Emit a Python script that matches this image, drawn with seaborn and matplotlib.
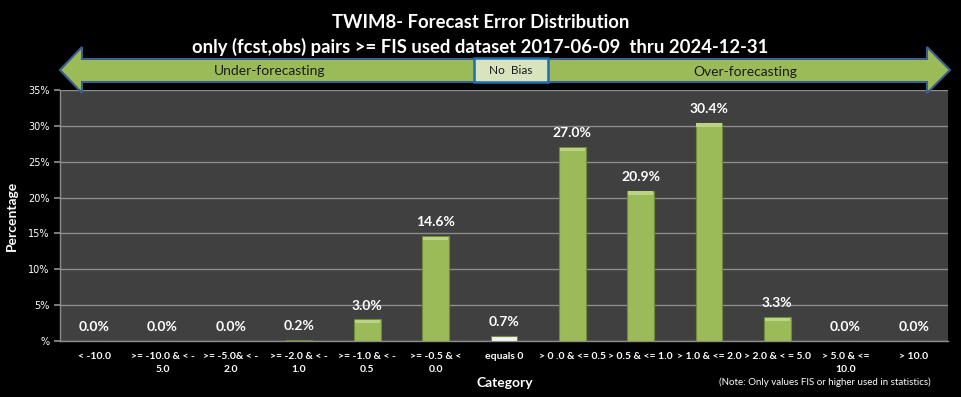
import matplotlib
matplotlib.use("Agg")
import matplotlib.pyplot as plt
from matplotlib.patches import Polygon, Rectangle
from matplotlib.ticker import FixedLocator, FuncFormatter
import seaborn as sns
import pandas as pd
import numpy as np

categories = ["< -10.0", ">= -10.0 & < -\n5.0", ">= -5.0& < -\n2.0", ">= -2.0 & < -\n1.0",
              ">= -1.0 & < -\n0.5", ">= -0.5 & <\n0.0", "equals 0", "> 0 .0 & <= 0.5",
              "> 0.5 & <= 1.0", "> 1.0 & <= 2.0", "> 2.0 & < = 5.0", "> 5.0 & <=\n10.0", "> 10.0"]
values = [0.0, 0.0, 0.0, 0.2, 3.0, 14.6, 0.7, 27.0, 20.9, 30.4, 3.3, 0.0, 0.0]
bar_colors = ["#9BBB59"] * 6 + ["#F2F2F2"] + ["#9BBB59"] * 6
y_ticks = [0, 5, 10, 15, 20, 25, 30, 35]

sns.set_theme(style="dark")
plt.rcParams['font.family'] = ['Lato', 'DejaVu Sans']

W, H = 961, 397
fig = plt.figure(figsize=(W / 100, H / 100), dpi=100, facecolor="black")
ax = fig.add_axes([60 / W, 1 - 341 / H, (948 - 60) / W, (341 - 90) / H])
ax.set_facecolor("#404040")

df = pd.DataFrame({"cat": categories, "val": values})
sns.barplot(data=df, x="cat", y="val", hue="cat", palette=bar_colors, legend=False,
            saturation=1, width=0.39, ax=ax, edgecolor="#6F8A38", linewidth=0.8, zorder=3)

# subtle lighter bevel at top of each green bar
for p in ax.patches:
    h = p.get_height()
    fc = p.get_facecolor()
    if h > 0.5 and fc[0] < 0.9:
        ax.add_patch(Rectangle((p.get_x() + 0.01, h - 0.55), p.get_width() - 0.02, 0.5,
                               facecolor="#BBD383", edgecolor="none", zorder=4))

ax.set_ylim(0, 35)
ax.set_xlim(-0.5, len(categories) - 0.5)
ax.yaxis.set_major_locator(FixedLocator(y_ticks))
ax.yaxis.set_major_formatter(FuncFormatter(lambda v, p: "%" if v == 0 else f"{int(v)}%"))
ax.grid(axis="y", color="#8C8C8C", linewidth=1.0, zorder=0)
ax.grid(axis="x", visible=False)
ax.set_axisbelow(True)

for s in ["top", "right"]:
    ax.spines[s].set_visible(False)
for s in ["left", "bottom"]:
    ax.spines[s].set_visible(True)
    ax.spines[s].set_color("#8C8C8C")
    ax.spines[s].set_linewidth(1.0)

ax.set_xticks(range(len(categories)))
ax.set_xticklabels(categories, color="white", fontsize=7.5, fontweight="bold", linespacing=1.5)
ax.set_xticks(np.arange(-0.5, len(categories)), minor=True)
ax.tick_params(axis="x", which="major", length=0, pad=8)
ax.tick_params(axis="x", which="minor", length=4, color="#8C8C8C", direction="out")
ax.tick_params(axis="y", length=4, color="#8C8C8C", labelcolor="white", labelsize=7, direction="out", left=True)
for lbl in ax.get_yticklabels():
    lbl.set_fontfamily(["DejaVu Sans"])

ax.set_xlabel("Category", color="white", fontsize=10, fontweight="bold")
ax.xaxis.set_label_coords((505 - 60) / 888, -(377 - 341) / 251)
ax.set_ylabel("Percentage", color="white", fontsize=10, fontweight="bold")
ax.yaxis.set_label_coords(-(60 - 18) / 888, 0.5)

for i, v in enumerate(values):
    ax.annotate(f"{v:.1f}%", (i, v), xytext=(0, 10), textcoords="offset points",
                ha="center", va="center", color="white", fontsize=10, fontweight="bold", zorder=5)

# Title
fig.text(0.5, 1 - 23 / H, "TWIM8- Forecast Error Distribution", ha="center", va="center",
         color="white", fontsize=13.3, fontweight="bold")
fig.text(0.5, 1 - 47 / H, "only (fcst,obs) pairs >= FIS used dataset 2017-06-09  thru 2024-12-31",
         ha="center", va="center", color="white", fontsize=13.3, fontweight="bold")

# Double arrow
def fp(x, y):
    return (x / W, 1 - y / H)

pts = [fp(60, 70), fp(82, 47), fp(82, 59), fp(927, 59), fp(927, 47), fp(950, 70),
       fp(927, 93), fp(927, 82), fp(82, 82), fp(82, 93)]
fig.patches.append(Polygon(pts, closed=True, transform=fig.transFigure, facecolor="#9BBB59",
                           edgecolor="#3B5F8E", linewidth=1.5, zorder=10))
x0, y0 = fp(474, 82)
x1, y1 = fp(548, 58)
fig.patches.append(Rectangle((x0, y0), x1 - x0, y1 - y0, transform=fig.transFigure,
                             facecolor="#D7E4BD", edgecolor="#1F6CB0", linewidth=1.8, zorder=11))
fig.text(511 / W, 1 - 70.5 / H, "No  Bias", ha="center", va="center", color="#1a1a1a",
         fontsize=8.5, zorder=12)
fig.text(270 / W, 1 - 71 / H, "Under-forecasting", ha="center", va="center", color="#1a1a1a",
         fontsize=10, zorder=12)
fig.text(745 / W, 1 - 72 / H, "Over-forecasting", ha="center", va="center", color="#1a1a1a",
         fontsize=10, zorder=12)

fig.text(825 / W, 1 - 382 / H, "(Note: Only values FIS or higher used in statistics)", ha="center",
         va="center", color="white", fontsize=7)

fig.savefig("out.png", dpi=100, facecolor="black")
